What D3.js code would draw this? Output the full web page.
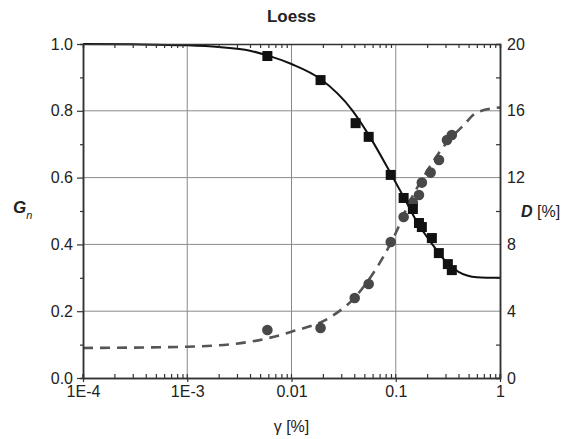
<!DOCTYPE html>
<html>
<head>
<meta charset="utf-8">
<script src="https://cdn.jsdelivr.net/npm/d3@7"></script>
<style>
  body { margin: 0; background: #fff; }
  text { font-family: "Liberation Sans", Arial, sans-serif; }
</style>
</head>
<body>
<script>
//Data

//measured shear modulus ratio (squares)
var gammaG = [0.00587, 0.019, 0.0412, 0.055, 0.0895, 0.119, 0.146, 0.167, 0.178, 0.222, 0.259, 0.316, 0.345];
var gnData = [0.964, 0.892, 0.763, 0.722, 0.608, 0.539, 0.506, 0.464, 0.452, 0.419, 0.374, 0.341, 0.323];

//measured damping (circles)
var gammaD = [0.00587, 0.019, 0.0404, 0.055, 0.0895, 0.119, 0.146, 0.167, 0.178, 0.216, 0.26, 0.31, 0.345];
var dData = [2.87, 3.0, 4.79, 5.63, 8.14, 9.64, 10.5, 10.96, 11.7, 12.3, 13.05, 14.25, 14.55];

//fitted curves, points
var gammaFitG = [1e-4, 3e-4, 1e-3, 0.002, 0.004, 0.00587, 0.01, 0.019, 0.0386, 0.055, 0.089, 0.12, 0.16, 0.22, 0.3, 0.4, 0.6, 1];
var gnFit = [1.0, 0.999, 0.996, 0.991, 0.980, 0.966, 0.94, 0.895, 0.80, 0.728, 0.614, 0.54, 0.467, 0.404, 0.35, 0.318, 0.302, 0.30];

var gammaFitD = [1e-4, 1e-3, 0.004, 0.01, 0.0237, 0.04, 0.0575, 0.1, 0.13, 0.2, 0.3, 0.45, 0.6, 1];
var dFit = [1.80, 1.87, 2.17, 2.77, 3.65, 4.79, 6.05, 8.68, 10.3, 12.4, 14.0, 15.15, 15.9, 16.2];

//ticks
var xMajor = [1e-4, 1e-3, 0.01, 0.1, 1];
var xLabels = ["1E-4", "1E-3", "0.01", "0.1", "1"];
var yLeftMajor = [0, 0.2, 0.4, 0.6, 0.8, 1.0];
var yLeftMinor = [0.1, 0.3, 0.5, 0.7, 0.9];
var yRightMajor = [0, 4, 8, 12, 16, 20];
var yRightMinor = [2, 6, 10, 14, 18];

//Layout
var width = 567, height = 439;
var margin = { top: 44, right: 67, bottom: 61, left: 83 };

var svg = d3.select("body").append("svg")
    .attr("width", width)
    .attr("height", height);

var xScale = d3.scaleLog()
    .domain([1e-4, 1])
    .range([margin.left, width - margin.right]);
var yScale = d3.scaleLinear()
    .domain([0, 1])
    .range([height - margin.bottom, margin.top]);
var yScaleR = d3.scaleLinear()
    .domain([0, 20])
    .range([height - margin.bottom, margin.top]);

//minor log ticks 2..9 of every decade
var xMinor = [];
xMajor.slice(0, -1).forEach(function (d) {
    for (var k = 2; k <= 9; k++) xMinor.push(d * k);
});

//grid
var grid = svg.append("g")
    .attr("stroke", "#8a8a8a")
    .attr("stroke-width", 1);
grid.selectAll(".xgrid")
    .data(xMajor.slice(1, -1))
    .join("line")
    .attr("x1", d => xScale(d))
    .attr("x2", d => xScale(d))
    .attr("y1", margin.top)
    .attr("y2", height - margin.bottom);
grid.selectAll(".ygrid")
    .data(yLeftMajor.slice(1, -1))
    .join("line")
    .attr("y1", d => yScale(d))
    .attr("y2", d => yScale(d))
    .attr("x1", margin.left)
    .attr("x2", width - margin.right);

//dashed damping curve
var lineD = d3.line()
    .x(d => xScale(d[0]))
    .y(d => yScaleR(d[1]))
    .curve(d3.curveMonotoneX);
svg.append("path")
    .datum(d3.zip(gammaFitD, dFit))
    .attr("fill", "none")
    .attr("stroke", "#555")
    .attr("stroke-width", 2.6)
    .attr("stroke-dasharray", "10,7")
    .attr("d", lineD);

svg.append("g")
    .selectAll("circle")
    .data(d3.zip(gammaD, dData))
    .join("circle")
    .attr("cx", d => xScale(d[0]))
    .attr("cy", d => yScaleR(d[1]))
    .attr("r", 5.3)
    .attr("fill", "#484848");

//solid modulus curve
var lineG = d3.line()
    .x(d => xScale(d[0]))
    .y(d => yScale(d[1]))
    .curve(d3.curveMonotoneX);
svg.append("path")
    .datum(d3.zip(gammaFitG, gnFit))
    .attr("fill", "none")
    .attr("stroke", "#111")
    .attr("stroke-width", 2)
    .attr("d", lineG);

svg.append("g")
    .selectAll("rect")
    .data(d3.zip(gammaG, gnData))
    .join("rect")
    .attr("x", d => xScale(d[0]) - 5)
    .attr("y", d => yScale(d[1]) - 5)
    .attr("width", 10)
    .attr("height", 10)
    .attr("fill", "#111");

//Axes
var axisColor = "#333";
var styleAxis = g => g
    .call(g => g.selectAll(".domain").attr("stroke", axisColor).attr("stroke-width", 1.5))
    .call(g => g.selectAll(".tick line").attr("stroke", axisColor).attr("stroke-width", 1.2))
    .call(g => g.selectAll(".tick text")
        .attr("fill", "#222")
        .attr("font-size", 16)
        .attr("font-family", "Liberation Sans, Arial, sans-serif"));

var yBottom = height - margin.bottom;

//bottom
svg.append("g")
    .attr("transform", `translate(0,${yBottom})`)
    .call(d3.axisBottom(xScale).tickValues(xMinor).tickSize(-4).tickFormat(""))
    .call(styleAxis);
svg.append("g")
    .attr("transform", `translate(0,${yBottom})`)
    .call(d3.axisBottom(xScale).tickValues(xMajor).tickSizeInner(4).tickSizeOuter(0)
        .tickPadding(4)
        .tickFormat((d, i) => xLabels[i]))
    .call(styleAxis);
svg.selectAll(".xcross")
    .data(xMajor)
    .join("line")
    .attr("x1", d => xScale(d))
    .attr("x2", d => xScale(d))
    .attr("y1", yBottom - 4)
    .attr("y2", yBottom)
    .attr("stroke", axisColor)
    .attr("stroke-width", 1.2);

//top
svg.append("g")
    .attr("transform", `translate(0,${margin.top})`)
    .call(d3.axisTop(xScale).tickValues(xMinor).tickSize(-4).tickFormat(""))
    .call(styleAxis);

//left
svg.append("g")
    .attr("transform", `translate(${margin.left},0)`)
    .call(d3.axisLeft(yScale).tickValues(yLeftMinor).tickSize(3).tickFormat(""))
    .call(styleAxis);
svg.append("g")
    .attr("transform", `translate(${margin.left},0)`)
    .call(d3.axisLeft(yScale).tickValues(yLeftMajor).tickSizeInner(6).tickSizeOuter(0)
        .tickPadding(4)
        .tickFormat(d3.format(".1f")))
    .call(styleAxis);

//right
svg.append("g")
    .attr("transform", `translate(${width - margin.right},0)`)
    .call(d3.axisRight(yScaleR).tickValues(yRightMinor).tickSize(-4).tickFormat(""))
    .call(styleAxis);
svg.append("g")
    .attr("transform", `translate(${width - margin.right},0)`)
    .call(d3.axisRight(yScaleR).tickValues(yRightMajor).tickSizeInner(0).tickSizeOuter(0)
        .tickPadding(7)
        .tickFormat(d3.format("d")))
    .call(styleAxis);

//Labels
svg.append("text")
    .attr("x", (margin.left + width - margin.right) / 2)
    .attr("y", 22)
    .attr("text-anchor", "middle")
    .attr("font-size", 17)
    .attr("font-weight", "bold")
    .attr("fill", "#222")
    .text("Loess");

var gn = svg.append("text")
    .attr("x", 13)
    .attr("y", 213)
    .attr("fill", "#222")
    .attr("font-size", 17)
    .attr("font-weight", "bold")
    .attr("font-style", "italic");
gn.append("tspan").text("G");
gn.append("tspan")
    .attr("dy", 6)
    .attr("font-size", 11)
    .attr("font-weight", "normal")
    .text("n");

var dl = svg.append("text")
    .attr("x", 521)
    .attr("y", 217)
    .attr("fill", "#222")
    .attr("font-size", 16);
dl.append("tspan")
    .attr("font-weight", "bold")
    .attr("font-style", "italic")
    .text("D");
dl.append("tspan").text(" [%]");

svg.append("text")
    .attr("x", (margin.left + width - margin.right) / 2)
    .attr("y", 432)
    .attr("text-anchor", "middle")
    .attr("font-size", 16)
    .attr("fill", "#222")
    .text("γ [%]");
</script>
</body>
</html>
